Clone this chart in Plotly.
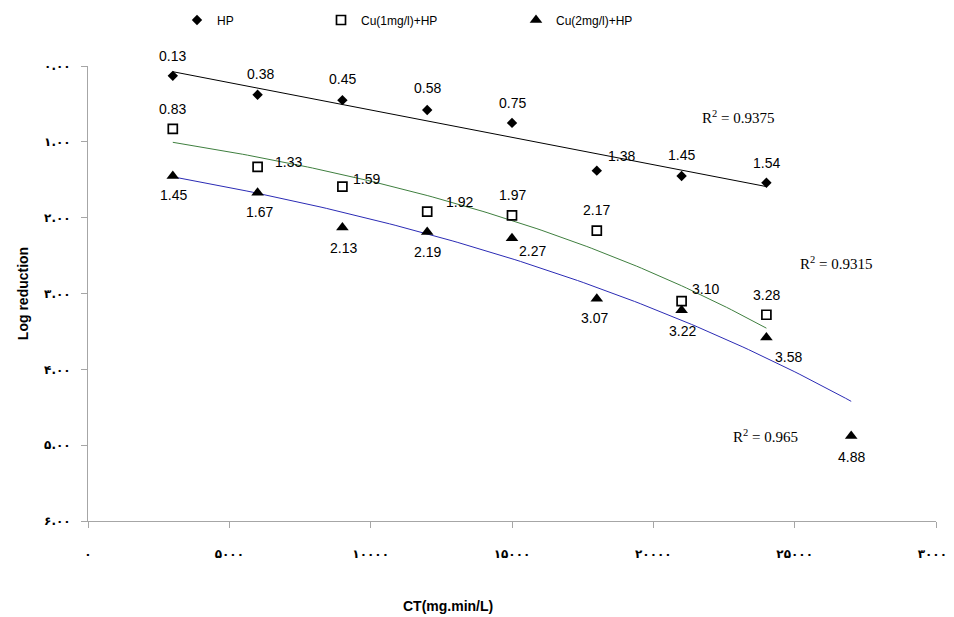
import numpy as np
import plotly.graph_objects as go

# ---------------- data ----------------
ct = [3000, 6000, 9000, 12000, 15000, 18000, 21000, 24000]
ct_cu2 = [3000, 6000, 9000, 12000, 15000, 18000, 21000, 24000, 27000]
hp = [0.13, 0.38, 0.45, 0.58, 0.75, 1.38, 1.45, 1.54]
cu1 = [0.83, 1.33, 1.59, 1.92, 1.97, 2.17, 3.10, 3.28]
cu2 = [1.45, 1.67, 2.13, 2.19, 2.27, 3.07, 3.22, 3.58, 4.88]

names = ["HP", "Cu(1mg/l)+HP", "Cu(2mg/l)+HP"]
r2_text = ["0.9375", "0.9315", "0.965"]

x_tickvals = [0, 5000, 10000, 15000, 20000, 25000, 30000]
x_ticktext = ["۰", "۵۰۰۰", "۱۰۰۰۰", "۱۵۰۰۰", "۲۰۰۰۰", "۲۵۰۰۰", "۳۰۰۰۰"]
y_tickvals = [0, 1, 2, 3, 4, 5, 6]
y_ticktext = ["۰.۰۰", "۱.۰۰", "۲.۰۰", "۳.۰۰", "۴.۰۰", "۵.۰۰", "۶.۰۰"]

# ---------------- label offsets (style) ----------------
hp_off = [(0, 20), (3, 21), (0, 21), (0, 22), (0, 20), (25, 15), (0, 21), (0, 20)]
cu1_off = [(0, 20), (31, 5), (24, 8), (32, 10), (0, 20), (0, 21), (24, 12), (0, 20)]
cu2_off = [(1, -19), (2, -19), (1, -20), (0, -20), (20, -13), (-2, -19), (1, -21), (22, -20), (0, -21)]

ARIAL = "Arial, Liberation Sans, sans-serif"
LABEL_FONT = dict(family=ARIAL, size=14, color="black")

# page offset (body margin) and plot-area geometry in screen pixels
OX, OY = 8, 8
FW, FH = 954 - OX, 617 - OY
L, R, T, B = 88, 936, 66, 521
W, H = R - L, B - T


def px(xp):
    return (xp - L) / W


def py(yp):
    return 1 - (yp - T) / H


fig = go.Figure()


def add_linear(xs, ys, color):
    c = np.polyfit(xs, ys, 1)
    xx = np.linspace(min(xs), max(xs), 120)
    fig.add_trace(go.Scatter(x=xx, y=np.polyval(c, xx), mode="lines",
                             line=dict(color=color, width=1), showlegend=False, hoverinfo="skip"))


def add_expon(xs, ys, color):
    c = np.polyfit(xs, np.log(ys), 1)
    xx = np.linspace(min(xs), max(xs), 120)
    fig.add_trace(go.Scatter(x=xx, y=np.exp(np.polyval(c, xx)), mode="lines",
                             line=dict(color=color, width=1), showlegend=False, hoverinfo="skip"))


add_linear(ct, hp, "black")
add_expon(ct, cu1, "#3f7f3f")
add_expon(ct_cu2, cu2, "#2b2bb5")

fig.add_trace(go.Scatter(x=ct, y=hp, mode="markers", name=names[0],
                         marker=dict(symbol="diamond", size=8, color="black"),
                         legendwidth=99))
fig.add_trace(go.Scatter(x=ct, y=cu1, mode="markers", name=names[1],
                         marker=dict(symbol="square-open", size=9, color="black",
                                     line=dict(width=1.7, color="black")),
                         legendwidth=150))
fig.add_trace(go.Scatter(x=ct_cu2, y=cu2, mode="markers", name=names[2],
                         marker=dict(symbol="triangle-up", size=11, color="black")))

annotations = []
for xs, ys, offs in [(ct, hp, hp_off), (ct, cu1, cu1_off), (ct_cu2, cu2, cu2_off)]:
    for x, y, (dx, dy) in zip(xs, ys, offs):
        annotations.append(dict(x=x, y=y, xref="x", yref="y", text=f"{y:.2f}",
                                showarrow=False, xshift=dx, yshift=dy, font=LABEL_FONT))

R2_FONT = dict(family="Times New Roman, Liberation Serif, serif", size=15, color="black")
for (xp, yp), t in zip([(738, 117), (836, 263), (765, 436)], r2_text):
    annotations.append(dict(x=px(xp), y=py(yp), xref="paper", yref="paper",
                            xanchor="center", yanchor="middle",
                            text=f"R<sup>2</sup> = {t}", showarrow=False, font=R2_FONT))

# x-axis title (placed left of centre as in the original)
annotations.append(dict(x=px(448), y=py(606), xref="paper", yref="paper",
                        xanchor="center", yanchor="middle",
                        text="<b>CT(mg.min/L)</b>", showarrow=False,
                        font=dict(family=ARIAL, size=14, color="black")))

axis_common = dict(showline=True, linecolor="#a6a6a6", linewidth=1, showgrid=False,
                   zeroline=False, ticks="outside", ticklen=6, tickcolor="#a6a6a6",
                   automargin=False, ticklabeloverflow="allow",
                   tickfont=dict(family="DejaVu Sans", size=12, color="black", weight="bold"))

fig.update_layout(
    width=FW, height=FH,
    margin=dict(l=L - OX, r=954 - R, t=T - OY, b=617 - B, autoexpand=False),
    plot_bgcolor="white", paper_bgcolor="white",
    xaxis=dict(range=[0, 30000], tickmode="array", tickvals=x_tickvals, ticktext=x_ticktext,
               ticklabelstandoff=16, **axis_common),
    yaxis=dict(range=[6, 0], tickmode="array", tickvals=y_tickvals, ticktext=y_ticktext,
               ticklabelstandoff=8,
               title=dict(text="<b>Log reduction</b>", standoff=12,
                          font=dict(family=ARIAL, size=14, color="black")),
               **axis_common),
    legend=dict(orientation="h", x=px(177), xanchor="left", y=py(20), yanchor="middle",
                font=dict(family=ARIAL, size=12, color="black"),
                itemwidth=30, bgcolor="rgba(0,0,0,0)"),
    annotations=annotations,
    showlegend=True,
)

fig.write_html("out.html")
